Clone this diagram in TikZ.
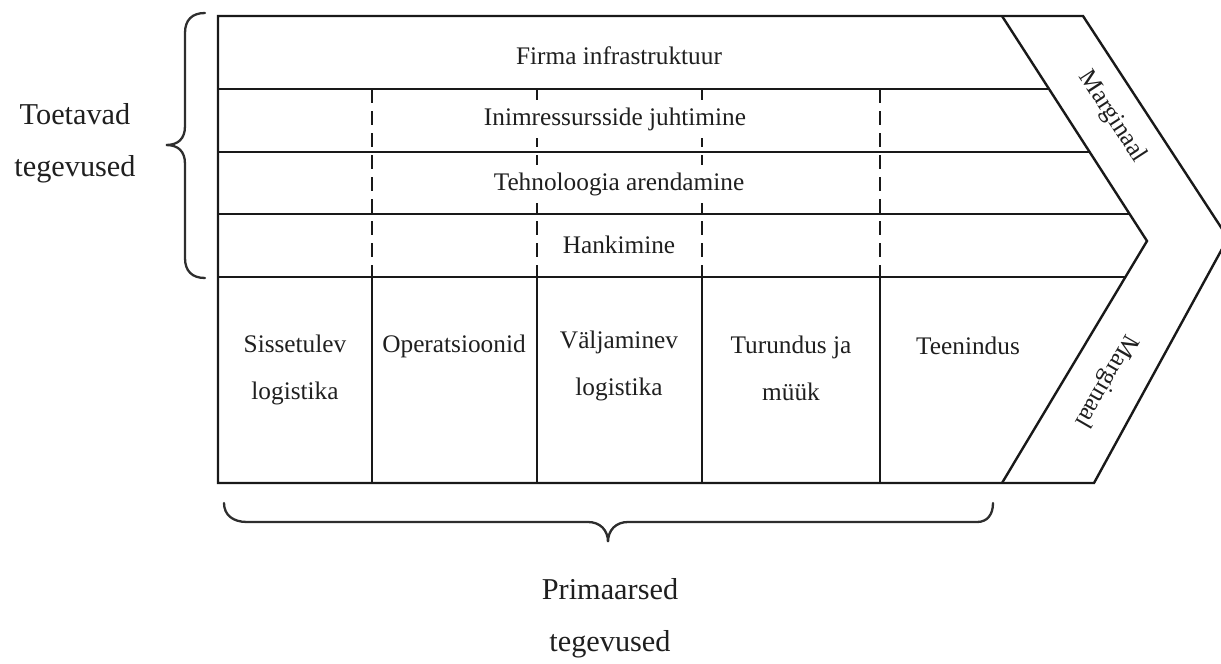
\documentclass[tikz,border=0pt]{standalone}
\usepackage{fontspec}
\setmainfont{Liberation Serif}
\usetikzlibrary{calc}
\begin{document}
\begin{tikzpicture}[x=1pt,y=-1pt,
  frame/.style={line width=2.4pt, black!90, line join=miter},
  dashv/.style={line width=2.5pt, black!90, dash pattern=on 14pt off 8pt},
  lbl/.style={font=\fontsize{25.3}{47}\selectfont, text=black!88, inner sep=2pt},
  mask/.style={lbl, fill=white, minimum height=38pt},
  big/.style={font=\fontsize{30.3}{52}\selectfont, align=center, text=black!88},
  brace/.style={line width=2.3pt, black!82, line cap=round}
]
\useasboundingbox (0,0) rectangle (1221,664);
\clip (0,0) rectangle (1221,664);

% corner points
\coordinate (TL) at (218,16);
\coordinate (BL) at (218,483);
\coordinate (OT) at (1083,16);
\coordinate (OTip) at (1228,238);
\coordinate (OBot) at (1094,483);
\coordinate (ITop) at (1002,16);
\coordinate (ITip) at (1147,241);
\coordinate (IBot) at (1002,483);

% outer frame and chevron
\draw[frame] (OT) -- (TL) -- (BL) -- (OBot) -- (OTip) -- cycle;
\draw[frame] (ITop) -- (ITip) -- (IBot);

% support rows
\draw[frame] (218,89) -- (1049,89);
\draw[frame] (218,152) -- (1089.6,152);
\draw[frame] (218,214) -- (1129.6,214);
\draw[frame] (218,277) -- (1125.4,277);

% dashed dividers in support rows, solid dividers in primary row
\foreach \x in {372,537,702,880}{
  \draw[dashv] (\x,89) -- (\x,277);
  \draw[frame] (\x,277) -- (\x,483);
}

% texts in rows
\node[lbl] (firma) at (619,56) {Firma infrastruktuur};
\node[mask] (hr) at (615,119) {Inimressursside juhtimine};
\node[mask] (tech) at (619,184) {Tehnoloogia arendamine};
\node[lbl] (hank) at (619,245) {Hankimine};

% primary activities
\node[lbl, align=center] (sis) at (295,370) {Sissetulev\\logistika};
\node[lbl] (ops) at (454,346) {Operatsioonid};
\node[lbl, align=center] (val) at (619,366) {Väljaminev\\logistika};
\node[lbl, align=center] (tur) at (791,368) {Turundus ja\\müük};
\node[lbl] (teen) at (968,346) {Teenindus};

% margin labels
\node[lbl, rotate=-57] (m1) at (1112,117) {Marginaal};
\node[lbl, rotate=-120] (m2) at (1106,381) {Marginaal};

% left brace
\draw[brace] (205,13) .. controls (192,13) and (185,20) .. (185,33)
  -- (185,126) .. controls (185,139) and (178,145) .. (166,145)
  .. controls (178,145) and (185,151) .. (185,164)
  -- (185,258) .. controls (185,271) and (192,278) .. (205,278);
\node[big] (sup) at (75,143) {Toetavad\\tegevused};

% bottom brace
\draw[brace] (224,503) .. controls (224,515) and (233,522) .. (247,522)
  -- (588,522) .. controls (600,522) and (608,530) .. (608,542)
  .. controls (608,530) and (616,522) .. (628,522)
  -- (977,522) .. controls (987,522) and (993,515) .. (993,503);
\node[big] (prim) at (610,618) {Primaarsed\\tegevused};
\end{tikzpicture}
\end{document}
